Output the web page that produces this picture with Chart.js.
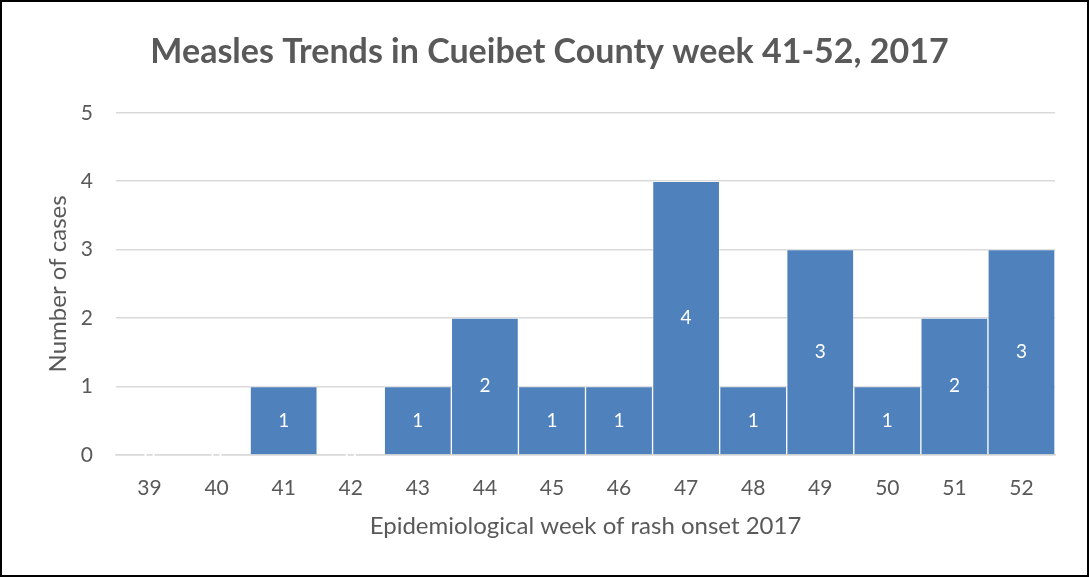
<!DOCTYPE html>
<html>
<head>
<meta charset="utf-8">
<script src="https://cdn.jsdelivr.net/npm/chart.js@4/dist/chart.umd.min.js"></script>
<style>
  html, body { margin: 0; padding: 0; background: #ffffff; }
  #wrap {
    width: 1089px; height: 577px; box-sizing: border-box;
    border: 2px solid #000000; background: #ffffff;
  }
  #wrap canvas { display: block; }
</style>
</head>
<body>
<div id="wrap"><canvas id="measlesChart" width="1085" height="573"></canvas></div>
<script>
// données
const weeks = ["39", "40", "41", "42", "43", "44", "45", "46", "47", "48", "49", "50", "51", "52"];
const cases = [0, 0, 1, 0, 1, 2, 1, 1, 4, 1, 3, 1, 2, 3];
const yTicks = [0, 1, 2, 3, 4, 5];

const FONT = "Lato, 'Open Sans', sans-serif";
const GREY = "#595959";

// étiquettes blanches au centre des barres
const barLabels = {
    id: "barLabels",
    afterDatasetsDraw(chart) {
        const ctx = chart.ctx;
        const meta = chart.getDatasetMeta(0);
        ctx.save();
        ctx.fillStyle = "#ffffff";
        ctx.font = "19px " + FONT;
        ctx.textAlign = "center";
        ctx.textBaseline = "middle";
        meta.data.forEach((bar, i) => {
            const y = (bar.y + bar.base) / 2;
            ctx.fillText(String(cases[i]), bar.x, y);
        });
        ctx.restore();
    }
};

new Chart(document.getElementById("measlesChart").getContext("2d"), {
    type: "bar",
    data: {
        labels: weeks,
        datasets: [{
            label: "Cases",
            data: cases,
            backgroundColor: "#4F81BD",
            borderColor: "rgba(255,255,255,0.35)",
            borderWidth: 1,
            borderSkipped: "bottom",
            categoryPercentage: 1.0,
            barPercentage: 1.0
        }]
    },
    options: {
        responsive: false,
        animation: false,
        layout: { padding: { left: 42, right: 32, top: 0, bottom: 34 } },
        plugins: {
            legend: { display: false },
            tooltip: { enabled: false },
            title: {
                display: true,
                text: "Measles Trends in Cueibet County week 41-52, 2017",
                color: GREY,
                font: { family: FONT, size: 34, weight: "bold" },
                padding: { top: 30, bottom: 40 }
            }
        },
        scales: {
            x: {
                afterFit(scale) { scale.height = 86; },
                grid: { display: false, drawTicks: false },
                border: { display: true, color: "#D9D9D9", width: 1.5 },
                ticks: { color: GREY, font: { family: FONT, size: 21 }, padding: 21, maxRotation: 0 },
                title: {
                    display: true,
                    text: "Epidemiological week of rash onset 2017",
                    color: GREY,
                    font: { family: FONT, size: 24 },
                    padding: { top: 0, bottom: 0 }
                }
            },
            y: {
                min: 0,
                max: 5,
                afterBuildTicks(scale) { scale.ticks = yTicks.map(v => ({ value: v })); },
                afterFit(scale) { scale.width = 72; },
                grid: { color: "#D9D9D9", lineWidth: 1.5, drawTicks: false },
                border: { display: false },
                ticks: { color: GREY, font: { family: FONT, size: 21 }, padding: 23 },
                title: {
                    display: true,
                    text: "Number of cases",
                    color: GREY,
                    font: { family: FONT, size: 24 },
                    padding: { top: 0, bottom: 0 }
                }
            }
        }
    },
    plugins: [barLabels]
});
</script>
</body>
</html>
